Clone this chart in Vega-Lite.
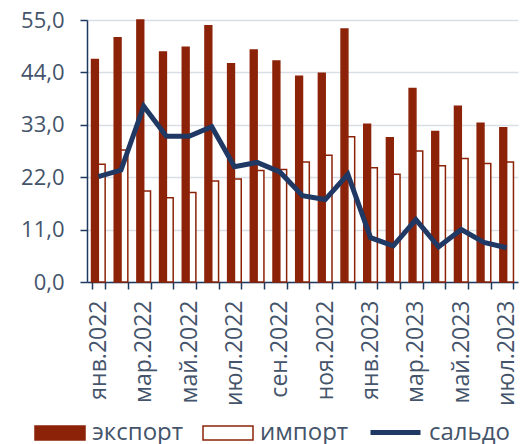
{
  "$schema": "https://vega.github.io/schema/vega-lite/v6.json",
  "width": 431,
  "height": 262,
  "autosize": {"type": "none"},
  "padding": {"left": 87, "top": 20, "right": 12, "bottom": 162},
  "background": "white",
  "config": {"font": "Open Sans", "view": {"stroke": null}},
  "data": {
    "values": [
      {"month": "янв.2022", "series": "экспорт", "value": 46.7},
      {"month": "фев.2022", "series": "экспорт", "value": 51.3},
      {"month": "мар.2022", "series": "экспорт", "value": 55.0},
      {"month": "апр.2022", "series": "экспорт", "value": 48.3},
      {"month": "май.2022", "series": "экспорт", "value": 49.3},
      {"month": "июн.2022", "series": "экспорт", "value": 53.8},
      {"month": "июл.2022", "series": "экспорт", "value": 45.8},
      {"month": "авг.2022", "series": "экспорт", "value": 48.7},
      {"month": "сен.2022", "series": "экспорт", "value": 46.4},
      {"month": "окт.2022", "series": "экспорт", "value": 43.2},
      {"month": "ноя.2022", "series": "экспорт", "value": 43.8},
      {"month": "дек.2022", "series": "экспорт", "value": 53.1},
      {"month": "янв.2023", "series": "экспорт", "value": 33.1},
      {"month": "фев.2023", "series": "экспорт", "value": 30.3},
      {"month": "мар.2023", "series": "экспорт", "value": 40.6},
      {"month": "апр.2023", "series": "экспорт", "value": 31.6},
      {"month": "май.2023", "series": "экспорт", "value": 36.9},
      {"month": "июн.2023", "series": "экспорт", "value": 33.3},
      {"month": "июл.2023", "series": "экспорт", "value": 32.4},
      {"month": "янв.2022", "series": "импорт", "value": 24.7},
      {"month": "фев.2022", "series": "импорт", "value": 27.7},
      {"month": "мар.2022", "series": "импорт", "value": 19.1},
      {"month": "апр.2022", "series": "импорт", "value": 17.7},
      {"month": "май.2022", "series": "импорт", "value": 18.8},
      {"month": "июн.2022", "series": "импорт", "value": 21.2},
      {"month": "июл.2022", "series": "импорт", "value": 21.6},
      {"month": "авг.2022", "series": "импорт", "value": 23.4},
      {"month": "сен.2022", "series": "импорт", "value": 23.6},
      {"month": "окт.2022", "series": "импорт", "value": 25.2},
      {"month": "ноя.2022", "series": "импорт", "value": 26.6},
      {"month": "дек.2022", "series": "импорт", "value": 30.5},
      {"month": "янв.2023", "series": "импорт", "value": 24.0},
      {"month": "фев.2023", "series": "импорт", "value": 22.6},
      {"month": "мар.2023", "series": "импорт", "value": 27.5},
      {"month": "апр.2023", "series": "импорт", "value": 24.4},
      {"month": "май.2023", "series": "импорт", "value": 25.9},
      {"month": "июн.2023", "series": "импорт", "value": 24.9},
      {"month": "июл.2023", "series": "импорт", "value": 25.2},
      {"month": "янв.2022", "series": "сальдо", "value": 22.1},
      {"month": "фев.2022", "series": "сальдо", "value": 23.5},
      {"month": "мар.2022", "series": "сальдо", "value": 36.9},
      {"month": "апр.2022", "series": "сальдо", "value": 30.6},
      {"month": "май.2022", "series": "сальдо", "value": 30.6},
      {"month": "июн.2022", "series": "сальдо", "value": 32.6},
      {"month": "июл.2022", "series": "сальдо", "value": 24.2},
      {"month": "авг.2022", "series": "сальдо", "value": 25.1},
      {"month": "сен.2022", "series": "сальдо", "value": 23.1},
      {"month": "окт.2022", "series": "сальдо", "value": 18.1},
      {"month": "ноя.2022", "series": "сальдо", "value": 17.3},
      {"month": "дек.2022", "series": "сальдо", "value": 22.6},
      {"month": "янв.2023", "series": "сальдо", "value": 9.3},
      {"month": "фев.2023", "series": "сальдо", "value": 7.6},
      {"month": "мар.2023", "series": "сальдо", "value": 13.1},
      {"month": "апр.2023", "series": "сальдо", "value": 7.4},
      {"month": "май.2023", "series": "сальдо", "value": 11.0},
      {"month": "июн.2023", "series": "сальдо", "value": 8.3},
      {"month": "июл.2023", "series": "сальдо", "value": 7.2}
    ]
  },
  "encoding": {
    "x": {
      "field": "month",
      "type": "nominal",
      "scale": {
        "domain": ["янв.2022", "фев.2022", "мар.2022", "апр.2022", "май.2022", "июн.2022", "июл.2022", "авг.2022", "сен.2022", "окт.2022", "ноя.2022", "дек.2022", "янв.2023", "фев.2023", "мар.2023", "апр.2023", "май.2023", "июн.2023", "июл.2023"],
        "paddingInner": 0.4,
        "paddingOuter": 0.2
      },
      "axis": {
        "title": null,
        "labelAngle": -90,
        "labelExpr": "indexof(['янв.2022','мар.2022','май.2022','июл.2022','сен.2022','ноя.2022','янв.2023','мар.2023','май.2023','июл.2023'], datum.value) >= 0 ? datum.label : ''",
        "tickBand": "extent",
        "tickSize": 7,
        "tickWidth": 1.5,
        "tickColor": "#1F3A5F",
        "domainColor": "#1F3A5F",
        "domainWidth": 1.5,
        "labelFontSize": 23,
        "labelColor": "#44546A",
        "labelPadding": 11,
        "grid": false
      }
    }
  },
  "layer": [
    {
      "transform": [{"filter": "datum.series != 'сальдо'"}],
      "mark": {"type": "bar", "stroke": "#8C2308", "strokeWidth": 1.5},
      "encoding": {
        "xOffset": {"field": "series", "type": "nominal", "scale": {"domain": ["экспорт", "импорт"], "paddingInner": 0, "paddingOuter": 0}},
        "y": {
          "field": "value",
          "type": "quantitative",
          "scale": {"domain": [0, 55], "nice": false},
          "axis": {
            "title": null,
            "values": [0, 11, 22, 33, 44, 55],
            "labelExpr": "replace(format(datum.value, '.1f'), '.', ',')",
            "grid": true,
            "gridColor": "#DADFE7",
            "gridWidth": 1.5,
            "tickSize": 7,
            "tickWidth": 1.5,
            "tickColor": "#1F3A5F",
            "domainColor": "#1F3A5F",
            "domainWidth": 1.5,
            "labelFontSize": 22,
            "labelColor": "#44546A",
            "labelPadding": 16
          }
        },
        "fill": {
          "field": "series",
          "type": "nominal",
          "scale": {"domain": ["экспорт", "импорт"], "range": ["#8C2308", "#ffffff"]},
          "legend": {
            "title": null,
            "orient": "none",
            "legendX": -53,
            "legendY": 387,
            "direction": "horizontal",
            "padding": 0,
            "symbolType": "M-1,-0.28H1V0.28H-1Z",
            "symbolSize": 2500,
            "symbolStrokeWidth": 1.5,
            "symbolStrokeColor": "#8C2308",
            "symbolOpacity": 1,
            "labelFontSize": 24,
            "labelColor": "#44546A",
            "labelOffset": 6,
            "labelLimit": 300,
            "columnPadding": 16
          }
        }
      }
    },
    {
      "transform": [{"filter": "datum.series == 'сальдо'"}],
      "mark": {"type": "line", "strokeWidth": 5},
      "encoding": {
        "y": {"field": "value", "type": "quantitative"},
        "stroke": {
          "field": "series",
          "type": "nominal",
          "scale": {"domain": ["сальдо"], "range": ["#1F3864"]},
          "legend": {
            "title": null,
            "orient": "none",
            "legendX": 281,
            "legendY": 385,
            "direction": "horizontal",
            "padding": 0,
            "symbolType": "stroke",
            "symbolSize": 2500,
            "symbolStrokeWidth": 5,
            "symbolOpacity": 1,
            "labelFontSize": 24,
            "labelColor": "#44546A",
            "labelOffset": 6,
            "labelLimit": 300
          }
        }
      }
    }
  ]
}
